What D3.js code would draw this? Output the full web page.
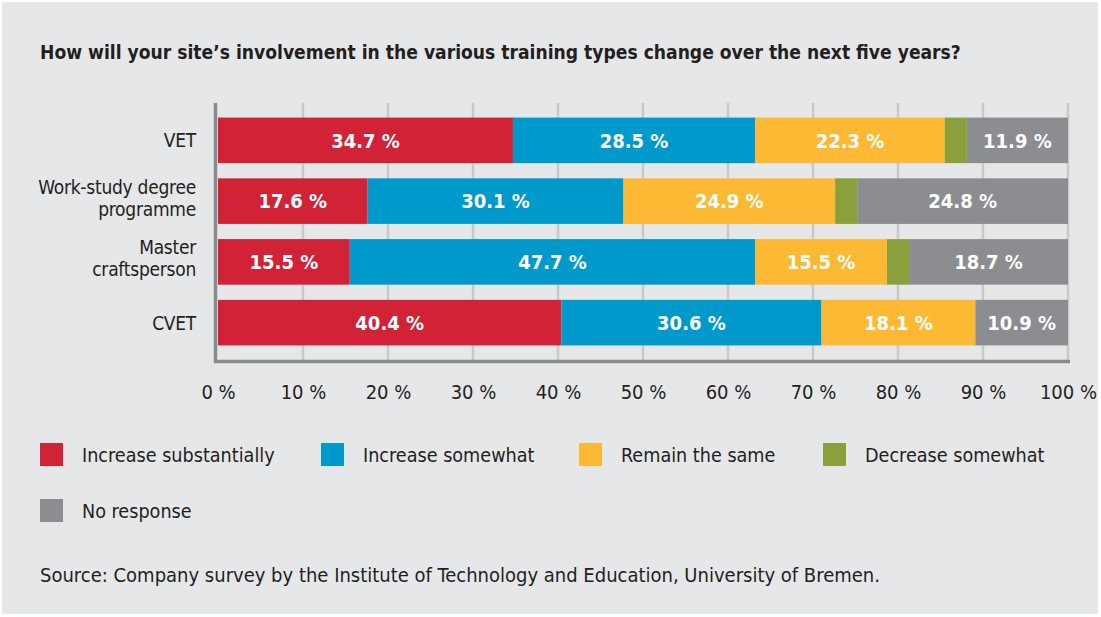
<!DOCTYPE html>
<html><head><meta charset="utf-8">
<script src="https://cdn.jsdelivr.net/npm/d3@7"></script>
<style>body{margin:0;background:#fff} svg{display:block}</style>
</head><body><svg id="c" width="1101" height="617"></svg>
<script>
const categories = ["VET", "Work-study degree programme", "Master craftsperson", "CVET"];
const categoryLines = [["VET"], ["Work-study degree", "programme"], ["Master", "craftsperson"], ["CVET"]];
const seriesNames = ["Increase substantially", "Increase somewhat", "Remain the same", "Decrease somewhat", "No response"];
const increaseSubstantially = [34.7, 17.6, 15.5, 40.4];
const increaseSomewhat = [28.5, 30.1, 47.7, 30.6];
const remainTheSame = [22.3, 24.9, 15.5, 18.1];
const decreaseSomewhat = [2.6, 2.6, 2.6, 0];
const noResponse = [11.9, 24.8, 18.7, 10.9];
const tickValues = [0, 10, 20, 30, 40, 50, 60, 70, 80, 90, 100];
const seriesColors = ["#d12236", "#0099cc", "#fdb933", "#8aa13b", "#8c8d90"];
const labelledSeries = [true, true, true, false, true];

const FONT = "'DejaVu Sans Condensed', 'Liberation Sans Narrow', sans-serif";
const seriesValues = [increaseSubstantially, increaseSomewhat, remainTheSame, decreaseSomewhat, noResponse];
const rows = categories.map((c, i) => {
  const r = {category: c};
  seriesNames.forEach((s, j) => r[s] = seriesValues[j][i]);
  return r;
});

const svg = d3.select("#c");
svg.append("rect").attr("x", 2).attr("y", 2).attr("width", 1096).attr("height", 612).attr("fill", "#e6e7e8");

svg.append("text").attr("x", 40).attr("y", 59)
  .attr("font-family", FONT).attr("font-weight", "bold").attr("font-size", 19.1)
  .attr("fill", "#231f20")
  .text("How will your site\u2019s involvement in the various training types change over the next five years?");

const x = d3.scaleLinear().domain([0, 100]).range([218, 1068]);
const y = d3.scaleBand().domain(categories).range([103, 360]).paddingInner(0.25).paddingOuter(0.24);

// gridlines
svg.append("g").selectAll("line").data(tickValues.slice(1)).join("line")
  .attr("x1", d => x(d)).attr("x2", d => x(d)).attr("y1", 103).attr("y2", 360)
  .attr("stroke", "#c8c9cb").attr("stroke-width", 2.5);

const stack = d3.stack().keys(seriesNames)(rows);
const g = svg.append("g");
stack.forEach((layer, j) => {
  g.append("g").attr("fill", seriesColors[j]).selectAll("rect").data(layer).join("rect")
    .attr("x", d => x(d[0])).attr("width", d => x(d[1]) - x(d[0]))
    .attr("y", d => y(d.data.category)).attr("height", y.bandwidth());
  if (labelledSeries[j]) {
    g.append("g").selectAll("text").data(layer.filter(d => d[1] - d[0] > 0)).join("text")
      .attr("x", d => (x(d[0]) + x(d[1])) / 2)
      .attr("y", d => y(d.data.category) + y.bandwidth() / 2)
      .attr("dy", "0.36em").attr("text-anchor", "middle")
      .attr("font-family", FONT).attr("font-weight", "bold").attr("font-size", 20)
      .attr("fill", "#ffffff")
      .text(d => d3.format(".1f")(d[1] - d[0]) + " %");
  }
});

// axis lines
svg.append("line").attr("x1", 215.5).attr("x2", 215.5).attr("y1", 103).attr("y2", 363)
  .attr("stroke", "#8a8b8e").attr("stroke-width", 3.5);
svg.append("line").attr("x1", 214).attr("x2", x(100) + 2).attr("y1", 361.5).attr("y2", 361.5)
  .attr("stroke", "#8a8b8e").attr("stroke-width", 3.5);

// x axis labels
const xAxis = d3.axisBottom(x).tickValues(tickValues).tickSize(0).tickPadding(0).tickFormat(d => d + "\u00a0%");
const ax = svg.append("g").attr("transform", "translate(0,385)").call(xAxis);
ax.select(".domain").remove();
ax.selectAll("text").attr("font-family", FONT).attr("font-size", 20).attr("fill", "#231f20");

// category labels
const cat = svg.append("g");
categories.forEach((c, i) => {
  const lines = categoryLines[i];
  const cy = y(c) + y.bandwidth() / 2;
  const t = cat.append("text").attr("text-anchor", "end").attr("font-family", FONT)
    .attr("font-size", 19).attr("letter-spacing", -0.25).attr("fill", "#231f20");
  lines.forEach((ln, k) => {
    const base = lines.length === 1 ? cy + 7 : cy - 7.5 + k * 22;
    t.append("tspan").attr("x", 196).attr("y", base).text(ln);
  });
});

// legend
const legendPos = [[40, 443], [321, 443], [579, 443], [823, 443], [40, 499]];
const lg = svg.append("g");
seriesNames.forEach((s, j) => {
  const [lx, ly] = legendPos[j];
  lg.append("rect").attr("x", lx).attr("y", ly).attr("width", 23).attr("height", 23).attr("fill", seriesColors[j]);
  lg.append("text").attr("x", lx + 42).attr("y", ly + 19).attr("font-family", FONT)
    .attr("font-size", 19.6).attr("fill", "#231f20").text(s);
});

svg.append("text").attr("x", 40).attr("y", 582).attr("font-family", FONT)
  .attr("font-size", 20).attr("fill", "#231f20")
  .text("Source: Company survey by the Institute of Technology and Education, University of Bremen.");
</script></body></html>
